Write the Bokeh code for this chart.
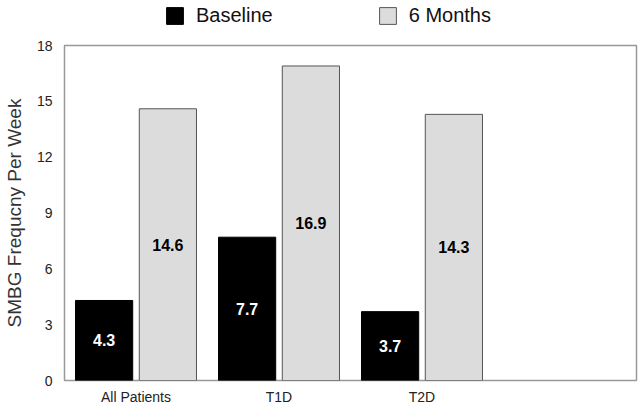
from bokeh.plotting import figure
from bokeh.layouts import column
from bokeh.models import (ColumnDataSource, FactorRange, Range1d, FixedTicker,
                          LabelSet, Legend, LegendItem)
from bokeh.core.properties import value
from bokeh.transform import dodge
from bokeh.embed import file_html
from bokeh.resources import INLINE

categories = ["All Patients", "T1D", "T2D"]
baseline = [4.3, 7.7, 3.7]
six_months = [14.6, 16.9, 14.3]
series_names = ["Baseline", "6 Months"]
y_ticks = [0, 3, 6, 9, 12, 15, 18]

FONT = "Liberation Sans"
GRAY = "#dcdcdc"
BASE_STYLE = dict(fill_color="#000000", line_color="#000000", line_width=1)
SIX_STYLE = dict(fill_color=GRAY, line_color="#555555", line_width=1)

src = ColumnDataSource(dict(
    cat=categories,
    base=baseline,
    six=six_months,
    base_mid=[v / 2 for v in baseline],
    six_mid=[v / 2 for v in six_months],
    base_lbl=[f"{v:.1f}" for v in baseline],
    six_lbl=[f"{v:.1f}" for v in six_months],
))

p = figure(
    x_range=FactorRange(factors=categories + [" "]),
    y_range=Range1d(0, 18),
    frame_width=572, frame_height=335,
    output_backend="svg", toolbar_location=None,
    min_border_left=63, min_border_right=3,
    min_border_top=15, min_border_bottom=20,
)

p.vbar(x=dodge("cat", -0.223, range=p.x_range), top="base", width=0.4,
       source=src, **BASE_STYLE)
p.vbar(x=dodge("cat", 0.223, range=p.x_range), top="six", width=0.4,
       source=src, **SIX_STYLE)

lbl_base = LabelSet(x=dodge("cat", -0.223, range=p.x_range), y="base_mid", text="base_lbl",
                    source=src, text_align="center", text_baseline="middle",
                    text_color="white", text_font=value(FONT), text_font_style="bold",
                    text_font_size="16px")
lbl_six = LabelSet(x=dodge("cat", 0.223, range=p.x_range), y="six_mid", text="six_lbl",
                   source=src, text_align="center", text_baseline="middle",
                   text_color="black", text_font=value(FONT), text_font_style="bold",
                   text_font_size="16px")
p.add_layout(lbl_base)
p.add_layout(lbl_six)

# axes
p.xgrid.grid_line_color = None
p.ygrid.grid_line_color = None
p.outline_line_color = "#999999"
p.outline_line_width = 1.5

p.yaxis.ticker = FixedTicker(ticks=y_ticks)
p.yaxis.axis_label = "SMBG Frequcny Per Week"
p.yaxis.axis_label_text_font = FONT
p.yaxis.axis_label_text_font_style = "normal"
p.yaxis.axis_label_text_font_size = "19px"
p.yaxis.axis_label_text_color = "#333333"
p.yaxis.axis_label_standoff = 9
for ax in (p.xaxis[0], p.yaxis[0]):
    ax.axis_line_color = None
    ax.major_tick_line_color = None
    ax.minor_tick_line_color = None
    ax.major_tick_out = 0
    ax.major_tick_in = 0
    ax.major_label_text_font = FONT
    ax.major_label_text_font_size = "14px"
    ax.major_label_text_color = "#222222"
p.yaxis.major_label_standoff = 12
p.xaxis.major_label_standoff = 8

# legend strip above the chart (its frame is aligned with the chart's frame).
# Its proxy bars use the same data but a y-range that keeps them out of view.
lf = figure(width=638, height=30, x_range=FactorRange(factors=categories + [" "]),
            y_range=Range1d(100, 130),
            output_backend="svg", toolbar_location=None,
            x_axis_location=None, y_axis_location=None,
            min_border=0, min_border_left=0, min_border_right=0,
            min_border_top=0, min_border_bottom=0)
lf.outline_line_color = None
lf.xgrid.grid_line_color = None
lf.ygrid.grid_line_color = None
lr_base = lf.vbar(x="cat", top="base", width=0.4, source=src, **BASE_STYLE)
lr_six = lf.vbar(x="cat", top="six", width=0.4, source=src, **SIX_STYLE)

legend = Legend(items=[LegendItem(label=series_names[0], renderers=[lr_base]),
                       LegendItem(label=series_names[1], renderers=[lr_six])],
                orientation="horizontal", location=(100, 3),
                padding=0, margin=0, spacing=104,
                glyph_width=21, glyph_height=21, label_height=21,
                label_standoff=11, label_text_font=FONT,
                label_text_font_size="20px", label_text_color="#111111",
                border_line_color=None, background_fill_alpha=0)
lf.add_layout(legend, "center")

layout = column(lf, p, spacing=0)
open("out.html", "w").write(file_html(layout, INLINE))
